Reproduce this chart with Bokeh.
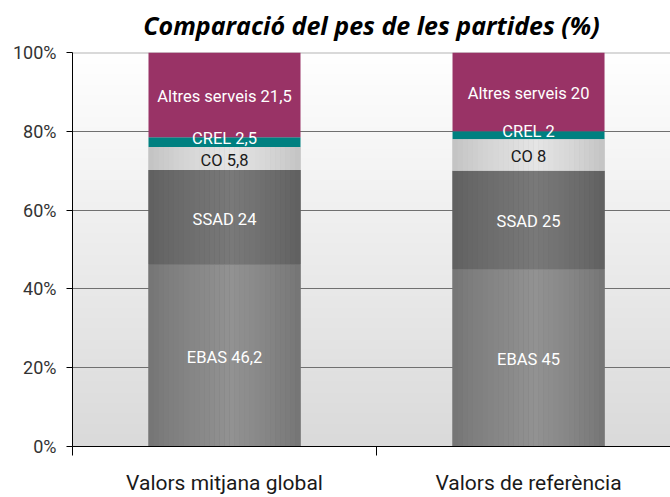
import numpy as np
from bokeh.plotting import figure
from bokeh.models import ColumnDataSource, FixedTicker, PrintfTickFormatter, Span, Range1d, Title
from bokeh.core.properties import value
from bokeh.embed import file_html
from bokeh.resources import INLINE

# ---- data ----
categories = ["Valors mitjana global", "Valors de referència"]
segments = ["EBAS", "SSAD", "CO", "CREL", "Altres serveis"]
ebas = [46.2, 45]
ssad = [24, 25]
co = [5.8, 8]
crel = [2.5, 2]
altres = [21.5, 20]
y_ticks = [0, 20, 40, 60, 80, 100]

series = [ebas, ssad, co, crel, altres]
edge_colors = ["#747474", "#5f5f5f", "#c2c2c2", "#008080", "#993366"]
center_colors = ["#929292", "#797979", "#e5e5e5", "#008080", "#993366"]
label_colors = ["white", "white", "#1a1a1a", "white", "white"]
label_shift = [2, 2, 2, -4, 2]  # px, CREL labels sit slightly above their thin segment

FONT = "Roboto"

xs = [i + 0.5 for i in range(len(categories))]
bar_w = 0.5
x_end = 1.967

p = figure(width=670, height=497, output_backend="svg", toolbar_location=None,
           x_range=Range1d(0, x_end), y_range=Range1d(0, 100),
           min_border_left=72, min_border_right=0, min_border_top=52, min_border_bottom=49)
p.background_fill_color = "white"
p.border_fill_color = "white"
p.outline_line_color = None

# title
p.title.text = "Comparació del pes de les partides (%)"
p.title.text_font = "Open Sans"
p.title.text_font_style = "bold italic"
p.title.text_font_size = "25px"
p.title.align = "center"
p.title.text_color = "black"
p.title.standoff = 6
# small empty spacer between the title and the plot area
spacer = Title(text=" ", text_font_size="5px", standoff=0)
p.above.insert(0, spacer)

# background vertical gradient
N = 200
img = np.empty((N, 1), dtype=np.uint32)
view = img.view(dtype=np.uint8).reshape((N, 1, 4))
t = np.linspace(0, 1, N)  # 0 bottom -> 1 top
g = (218 + (255 - 218) * t).astype(np.uint8)
view[:, 0, 0] = g
view[:, 0, 1] = g
view[:, 0, 2] = g
view[:, 0, 3] = 255
p.image_rgba(image=[img], x=0, y=0, dw=x_end, dh=100, level="image")

# grid
p.xgrid.visible = False
p.ygrid.ticker = FixedTicker(ticks=y_ticks[1:-1])
p.ygrid.grid_line_color = "#707070"
p.ygrid.grid_line_width = 1
top_line = Span(location=y_ticks[-1], dimension="width", line_color="#b4b4b4", line_width=2, level="underlay")
p.add_layout(top_line)

# stacked bars
data = {"x": xs}
for name, vals in zip(segments, series):
    data[name] = vals
src = ColumnDataSource(data)
p.vbar_stack(segments, x="x", width=bar_w, color=edge_colors, line_color=None, source=src)

# cylindrical shading strips for grey segments
def hex2rgb(h):
    h = h.lstrip("#")
    return np.array([int(h[i:i + 2], 16) for i in (0, 2, 4)], dtype=float)

n_strips = 30
L, R, B, T, C = [], [], [], [], []
for ci, x in enumerate(xs):
    bottom = 0.0
    for si, vals in enumerate(series):
        v = vals[ci]
        if edge_colors[si] != center_colors[si]:
            e = hex2rgb(edge_colors[si])
            c = hex2rgb(center_colors[si])
            for j in range(n_strips):
                u = (j + 0.5) / n_strips
                peak = 0.55
                w = 1 - (abs(u - peak) / (peak if u < peak else 1 - peak))
                w = max(0.0, w) ** 0.8
                col = e + (c - e) * w
                L.append(x - bar_w / 2 + j * bar_w / n_strips)
                R.append(x - bar_w / 2 + (j + 1) * bar_w / n_strips + 0.0004)
                B.append(bottom)
                T.append(bottom + v)
                C.append("#%02x%02x%02x" % tuple(int(round(k)) for k in col))
        bottom += v
p.quad(left=L, right=R, bottom=B, top=T, fill_color=C, line_color=None)

# labels
def fmt(v):
    return ("%g" % v).replace(".", ",")

lx, ly, lt, lc, lo = [], [], [], [], []
for ci, x in enumerate(xs):
    bottom = 0.0
    for si, vals in enumerate(series):
        v = vals[ci]
        lx.append(x)
        ly.append(bottom + v / 2)
        lt.append(f"{segments[si]} {fmt(v)}")
        lc.append(label_colors[si])
        lo.append(label_shift[si])
        bottom += v
lsrc = ColumnDataSource(dict(x=lx, y=ly, text=lt, color=lc, yo=lo))
p.text(x="x", y="y", text="text", text_color="color", y_offset="yo", source=lsrc,
       text_align="center", text_baseline="middle",
       text_font=value(FONT), text_font_size="16.5px")

# axes
xa = p.xaxis[0]
xa.ticker = FixedTicker(ticks=xs, minor_ticks=[0, 1, 2])
xa.major_label_overrides = {x: c for x, c in zip(xs, categories)}
xa.major_tick_line_color = None
xa.major_tick_out = 0
xa.major_tick_in = 0
xa.minor_tick_line_color = "black"
xa.minor_tick_out = 9
xa.minor_tick_in = 0
xa.axis_line_color = "black"
xa.major_label_text_font = FONT
xa.major_label_text_font_size = "21px"
xa.major_label_text_color = "#1a1a1a"
xa.major_label_standoff = 15

ya = p.yaxis[0]
ya.ticker = FixedTicker(ticks=y_ticks)
ya.formatter = PrintfTickFormatter(format="%d%%")
ya.major_tick_out = 6
ya.major_tick_in = 0
ya.minor_tick_line_color = None
ya.axis_line_color = "black"
ya.major_tick_line_color = "black"
ya.major_label_text_font = FONT
ya.major_label_text_font_size = "18px"
ya.major_label_text_color = "#333333"
ya.major_label_standoff = 10

open("out.html", "w").write(file_html(p, INLINE))
